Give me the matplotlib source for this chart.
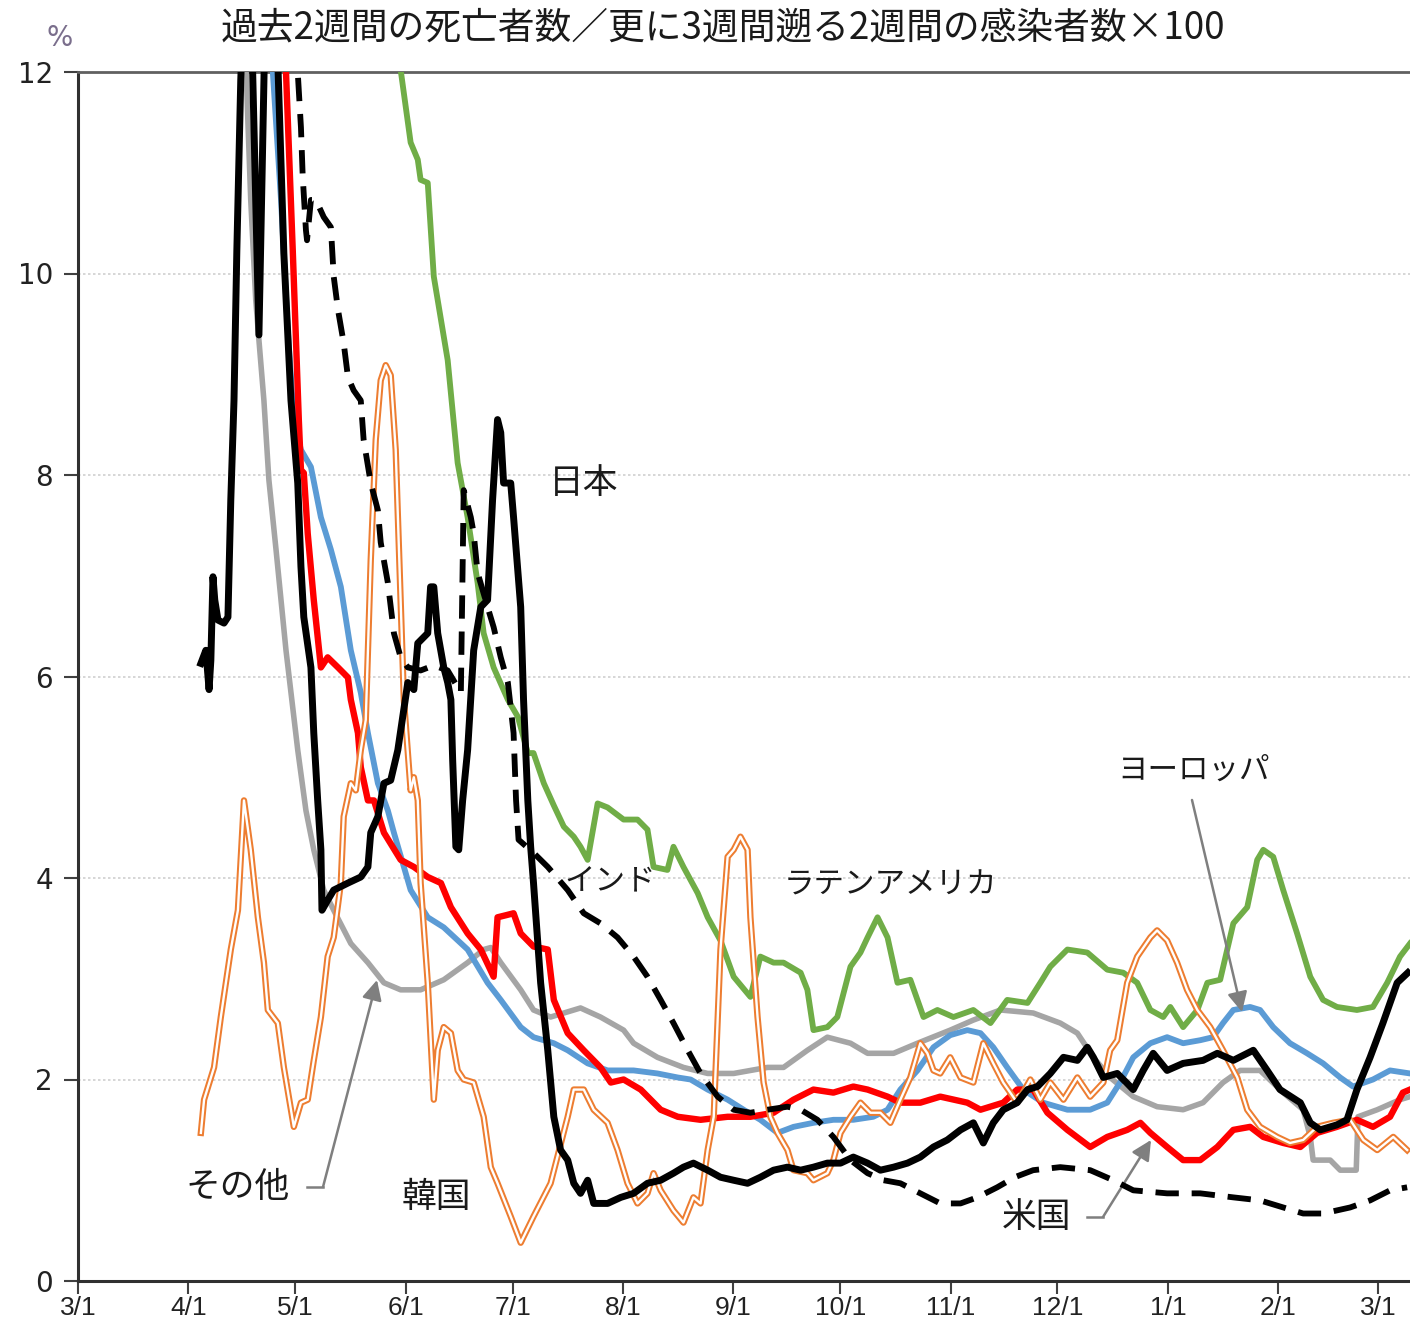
import matplotlib
matplotlib.use('Agg')
import matplotlib.pyplot as plt
import numpy as np
import pandas as pd
from matplotlib.lines import Line2D

plt.rcParams['font.family'] = ['Noto Sans CJK JP', 'DejaVu Sans']

START = pd.Timestamp('2020-03-01')
END_DAY = 374

title = '過去2週間の死亡者数／更に3週間遡る2週間の感染者数×100'
tick_labels = ['3/1', '4/1', '5/1', '6/1', '7/1', '8/1', '9/1', '10/1', '11/1', '12/1', '1/1', '2/1', '3/1']
y_ticks = [0, 2, 4, 6, 8, 10, 12]

# ---- data: days since 2020-03-01, value in % ----
japan_day = [34.5, 35.9, 36.8, 37.3, 37.9, 38.4, 39.3, 41.0, 42.1, 42.9, 43.8, 44.6, 45.7, 46.6, 48.5, 50.8,
             52.7, 55.5, 56.1, 57.8, 59.8, 61.7, 62.6, 63.4, 65.4, 66.2, 67.3, 68.2, 68.5, 70.1, 71.8, 75.8,
             79.4, 81.4, 82.2, 84.2, 85.9, 87.8, 89.8, 92.6, 94.3, 95.4, 98.2, 99.0, 99.9, 101.0, 102.7, 103.8,
             104.7, 105.2, 106.1, 106.9, 108.0, 109.4, 111.1, 113.1, 115.0, 116.4, 117.8, 118.7, 119.5, 121.5,
             122.3, 124.3, 125.1, 126.3, 127.1, 127.9, 129.9, 131.9, 133.6, 135.5, 137.5, 139.2, 141.1, 143.1,
             144.8, 148.7, 152.4, 156.0, 159.9, 163.6, 167.2, 170.0, 172.8, 176.8, 180.4, 184.1, 188.0, 191.6,
             195.3, 199.2, 202.9, 206.5, 210.4, 214.1, 217.7, 221.7, 225.3, 229.0, 232.9, 236.5, 240.2, 244.1,
             247.8, 251.4, 254.2, 257.0, 259.8, 263.7, 266.6, 269.4, 273.0, 276.7, 280.6, 283.4, 285.1, 287.9,
             291.8, 296.3, 299.1, 301.9, 305.8, 310.3, 315.9, 319.9, 324.4, 330.0, 333.9, 337.5, 343.2, 346.0,
             348.8, 353.5, 356.3, 359.1, 362.8, 366.4, 370.4, 373.4]
japan_val = [6.13, 6.26, 5.87, 6.16, 6.99, 6.76, 6.56, 6.53, 6.59, 7.75, 8.74, 10.23, 11.92, 12.8, 12.8, 9.39,
             12.8, 12.8, 12.1, 10.2, 8.74, 7.92, 7.09, 6.59, 6.09, 5.44, 4.77, 4.28, 3.68, 3.78, 3.88, 3.95,
             4.01, 4.11, 4.45, 4.61, 4.94, 4.97, 5.27, 5.94, 5.87, 6.33, 6.43, 6.89, 6.89, 6.43, 6.09, 5.94,
             5.77, 5.17, 4.31, 4.28, 4.77, 5.27, 6.26, 6.69, 6.76, 7.75, 8.55, 8.42, 7.92, 7.92,
             7.58, 6.69, 5.77, 4.77, 4.31, 3.95, 2.96, 2.29, 1.63, 1.30, 1.20, 0.97, 0.87, 1.00,
             0.77, 0.77, 0.83, 0.87, 0.97, 1.00, 1.07, 1.13, 1.17, 1.10, 1.03, 1.00, 0.97, 1.03,
             1.10, 1.13, 1.10, 1.13, 1.17, 1.17, 1.23, 1.17, 1.10, 1.13, 1.17, 1.23, 1.33, 1.40,
             1.50, 1.57, 1.37, 1.57, 1.70, 1.77, 1.90, 1.93, 2.06, 2.22, 2.19, 2.32, 2.22, 2.02,
             2.06, 1.90, 2.09, 2.26, 2.09, 2.16, 2.19, 2.26, 2.19, 2.29, 2.09, 1.90, 1.77, 1.57,
             1.50, 1.55, 1.60, 1.90, 2.22, 2.56, 2.96, 3.06]

india_day = [61.2, 62.6, 63.1, 64.0, 64.3, 65.4, 66.8, 69.0, 71.0, 71.8, 73.0, 74.6, 75.8, 77.4, 79.4, 80.2,
             82.2, 84.2, 85.0, 87.0, 88.7, 90.6, 92.6, 96.2, 99.9, 103.8, 107.5, 108.3, 110.3, 111.1, 112.2,
             115.0, 116.7, 118.7, 120.7, 122.3, 123.0, 123.7, 127.9, 131.9, 137.5, 142.0, 146.7, 151.5, 156.0,
             159.9, 163.6, 167.2, 171.2, 174.8, 179.6, 184.1, 188.8, 193.6, 199.2, 202.9, 207.6, 212.1, 216.9,
             221.7, 226.2, 230.9, 236.5, 242.1, 247.8, 252.5, 258.1, 263.0, 268.2, 275.8, 284.2, 290.7, 296.3,
             305.8, 315.1, 324.4, 331.9, 338.4, 344.0, 349.6, 357.2, 362.8, 368.4, 373.2]
india_val = [12.3, 11.45, 10.96, 10.43, 10.33, 10.73, 10.73, 10.56, 10.46, 9.97, 9.64, 9.31, 8.97, 8.84, 8.74, 8.35,
             7.92, 7.65, 7.33, 6.93, 6.43, 6.19, 6.09, 6.06, 6.11, 6.06, 5.84, 7.85, 7.58, 7.42, 7.03,
             6.69, 6.49, 6.19, 5.94, 5.44, 4.77, 4.38, 4.25, 4.11, 3.88, 3.65, 3.55, 3.41, 3.22,
             3.02, 2.79, 2.56, 2.29, 2.06, 1.83, 1.70, 1.67, 1.70, 1.73, 1.70, 1.60, 1.43, 1.20,
             1.07, 1.00, 0.97, 0.87, 0.77, 0.77, 0.83, 0.93, 1.03, 1.10, 1.13, 1.10, 1.00, 0.90,
             0.87, 0.87, 0.83, 0.80, 0.73, 0.67, 0.67, 0.73, 0.80, 0.90, 0.93]

latam_day = [90.1, 90.6, 93.4, 95.4, 96.2, 98.2, 99.9, 103.8, 106.6, 109.4, 112.2, 113.9, 116.7, 120.7, 123.5,
             126.3, 127.9, 130.8, 133.6, 136.4, 139.2, 141.1, 143.1, 145.9, 148.7, 153.2, 157.1, 159.9, 161.6,
             165.5, 167.2, 170.0, 174.0, 176.8, 180.4, 184.1, 188.8, 191.6, 195.3, 198.1, 202.9, 204.8, 206.5,
             210.4, 213.2, 216.9, 219.7, 221.7, 224.5, 227.3, 230.1, 233.7, 237.4, 241.3, 245.8, 251.4, 256.2,
             260.9, 266.6, 270.2, 273.0, 277.8, 283.4, 289.0, 293.5, 297.4, 301.1, 304.7, 306.7, 310.3, 314.3,
             317.1, 320.7, 324.4, 328.3, 331.1, 332.8, 335.6, 338.4, 342.3, 346.0, 349.6, 353.5, 359.1, 363.6,
             367.6, 371.2, 374.0]
latam_val = [12.3, 12.02, 11.30, 11.13, 10.93, 10.90, 9.97, 9.14, 8.12, 7.58, 6.93, 6.43, 6.09, 5.77, 5.60,
             5.24, 5.24, 4.94, 4.72, 4.51, 4.41, 4.31, 4.18, 4.74, 4.70, 4.58, 4.58, 4.48, 4.11,
             4.08, 4.31, 4.11, 3.85, 3.61, 3.38, 3.02, 2.82, 3.22, 3.16, 3.16, 3.06, 2.89, 2.49,
             2.52, 2.62, 3.12, 3.26, 3.41, 3.61, 3.41, 2.96, 2.99, 2.62, 2.69, 2.62, 2.69, 2.56,
             2.79, 2.76, 2.96, 3.12, 3.29, 3.26, 3.09, 3.06, 2.96, 2.69, 2.62, 2.72, 2.52, 2.69,
             2.96, 2.99, 3.55, 3.71, 4.18, 4.28, 4.21, 3.88, 3.45, 3.02, 2.79, 2.72, 2.69, 2.72,
             2.96, 3.22, 3.35]

europe_day = [54.2, 54.7, 57.0, 58.9, 60.6, 62.6, 65.4, 68.2, 71.0, 73.8, 76.6, 79.4, 81.4, 84.2, 87.0, 88.7,
              93.4, 98.2, 102.7, 109.4, 115.0, 118.7, 124.3, 127.9, 133.6, 137.5, 143.1, 148.7, 156.0, 162.7,
              168.4, 172.0, 176.8, 182.4, 186.9, 191.6, 196.4, 200.9, 206.5, 212.1, 217.7, 223.3, 227.3, 230.9,
              235.7, 240.2, 244.9, 249.7, 253.4, 257.0, 260.9, 265.4, 271.0, 277.8, 284.2, 289.0, 292.6, 296.3,
              301.1, 305.8, 310.3, 315.1, 318.7, 321.5, 324.4, 329.1, 331.9, 335.6, 340.3, 345.1, 349.6, 354.4,
              358.0, 363.6, 368.4, 374.0]
europe_val = [12.3, 12.0, 10.73, 9.44, 8.55, 8.25, 8.08, 7.58, 7.26, 6.89, 6.26, 5.84, 5.44, 4.94, 4.67, 4.45,
              3.88, 3.61, 3.51, 3.29, 2.96, 2.79, 2.52, 2.42, 2.36, 2.29, 2.16, 2.09, 2.09, 2.06,
              2.02, 2.00, 1.90, 1.80, 1.70, 1.60, 1.47, 1.53, 1.57, 1.60, 1.60, 1.63, 1.70, 1.90,
              2.09, 2.32, 2.44, 2.49, 2.46, 2.32, 2.12, 1.90, 1.77, 1.70, 1.70, 1.77, 1.97, 2.22,
              2.36, 2.42, 2.36, 2.39, 2.42, 2.56, 2.69, 2.72, 2.69, 2.52, 2.36, 2.26, 2.16, 2.02,
              1.93, 2.00, 2.09, 2.06]

us_day = [57.8, 58.4, 60.3, 62.0, 62.6, 63.4, 64.5, 66.2, 68.2, 70.1, 73.0, 75.8, 76.6, 78.6, 79.4, 81.4, 83.1,
          85.9, 90.6, 94.3, 98.2, 101.9, 104.7, 109.4, 113.1, 116.7, 117.8, 120.1, 122.3, 124.3, 127.9, 131.9,
          133.6, 137.5, 142.0, 146.7, 149.6, 153.2, 158.0, 163.6, 168.4, 174.8, 182.4, 188.8, 195.3, 200.9,
          206.5, 212.1, 217.7, 221.7, 227.3, 230.9, 236.5, 242.1, 249.7, 253.4, 259.8, 263.7, 268.2, 272.2,
          277.8, 284.2, 289.0, 294.6, 298.3, 301.1, 305.8, 310.3, 315.1, 319.9, 324.4, 329.1, 332.8, 338.4,
          343.2, 347.9, 353.5, 359.1, 363.6, 368.4, 372.0, 374.0]
us_val = [12.3, 12.0, 10.23, 8.55, 8.05, 8.02, 7.42, 6.76, 6.09, 6.19, 6.09, 5.99, 5.77, 5.44, 5.10, 4.77, 4.77,
          4.45, 4.18, 4.11, 4.01, 3.95, 3.71, 3.45, 3.29, 3.02, 3.61, 3.63, 3.65, 3.45, 3.32, 3.29,
          2.79, 2.46, 2.29, 2.12, 1.97, 2.00, 1.90, 1.70, 1.63, 1.60, 1.63, 1.63, 1.67, 1.80,
          1.90, 1.87, 1.93, 1.90, 1.83, 1.77, 1.77, 1.83, 1.77, 1.70, 1.77, 1.90, 1.90, 1.67,
          1.50, 1.33, 1.43, 1.50, 1.57, 1.47, 1.33, 1.20, 1.20, 1.33, 1.50, 1.53, 1.43, 1.37,
          1.33, 1.47, 1.53, 1.60, 1.53, 1.63, 1.87, 1.90]

other_day = [47.1, 48.5, 49.9, 50.8, 52.2, 53.6, 55.6, 58.4, 61.7, 64.0, 66.2, 69.0, 71.8, 76.6, 81.4, 85.9,
             90.6, 96.2, 102.7, 109.4, 113.9, 115.9, 118.7, 124.3, 127.9, 132.7, 141.1, 146.7, 153.2, 156.0,
             162.7, 170.0, 176.8, 184.1, 193.6, 198.1, 204.8, 210.4, 216.9, 221.7, 229.0, 235.7, 244.9, 251.4,
             259.0, 268.2, 275.8, 280.6, 285.1, 289.8, 296.3, 303.0, 310.3, 315.9, 321.5, 326.3, 331.9, 338.4,
             344.0, 346.0, 346.8, 351.6, 354.4, 358.9, 359.4, 364.8, 371.2, 374.0]
other_val = [12.1, 10.73, 9.74, 9.34, 8.74, 7.95, 7.26, 6.26, 5.27, 4.67, 4.28, 3.88, 3.68, 3.35, 3.16, 2.96,
             2.89, 2.89, 2.99, 3.16, 3.29, 3.31, 3.16, 2.89, 2.69, 2.62, 2.71, 2.62, 2.49, 2.36,
             2.22, 2.12, 2.06, 2.06, 2.12, 2.12, 2.29, 2.42, 2.36, 2.26, 2.26, 2.36, 2.49, 2.59,
             2.69, 2.66, 2.56, 2.46, 2.22, 2.02, 1.83, 1.73, 1.70, 1.77, 1.97, 2.09, 2.09, 1.87,
             1.70, 1.43, 1.20, 1.20, 1.10, 1.10, 1.63, 1.70, 1.80, 1.83]

korea_day = [34.5, 35.4, 38.2, 40.1, 42.9, 44.9, 46.6, 48.5, 50.5, 52.2, 53.3, 56.1, 57.8, 59.8, 60.6, 62.6,
             64.5, 66.2, 68.2, 70.1, 71.8, 73.8, 74.6, 76.6, 78.0, 79.4, 80.8, 82.2, 83.6, 85.0, 86.4, 87.8,
             89.2, 90.6, 91.5, 93.4, 94.3, 95.4, 96.2, 98.2, 99.9, 101.0, 102.7, 104.7, 106.6, 108.3, 111.1,
             113.9, 115.9, 117.8, 121.5, 124.3, 127.9, 132.7, 137.5, 139.2, 142.0, 144.8, 148.7, 151.5, 154.3,
             157.1, 159.9, 161.6, 163.6, 167.2, 170.0, 172.8, 174.8, 176.8, 178.5, 180.4, 182.4, 184.1, 186.0,
             188.0, 188.8, 190.8, 192.5, 194.4, 196.4, 199.2, 200.9, 204.8, 206.5, 210.4, 212.1, 214.1, 216.9,
             219.7, 222.5, 225.3, 228.1, 230.9, 233.7, 236.5, 238.5, 240.2, 242.1, 244.9, 247.8, 251.4, 254.2,
             257.0, 259.8, 263.7, 267.4, 270.2, 273.0, 276.7, 280.6, 284.2, 287.9, 289.8, 291.8, 294.6, 297.4,
             301.1, 303.0, 305.8, 308.6, 311.4, 314.3, 317.9, 321.5, 325.5, 328.3, 331.9, 336.7, 340.3, 344.0,
             347.9, 352.4, 357.2, 360.9, 364.8, 369.3, 373.2]
korea_val = [1.47, 1.80, 2.12, 2.62, 3.29, 3.68, 4.77, 4.28, 3.61, 3.16, 2.69, 2.56, 2.12, 1.70, 1.53, 1.77,
             1.80, 2.19, 2.62, 3.22, 3.41, 3.95, 4.61, 4.94, 4.87, 5.27, 5.57, 7.16, 8.35, 8.94, 9.09, 8.99,
             8.25, 6.76, 5.77, 4.87, 5.00, 4.77, 3.95, 2.96, 1.80, 2.29, 2.52, 2.46, 2.09, 2.00, 1.97,
             1.63, 1.13, 0.97, 0.64, 0.38, 0.64, 0.97, 1.63, 1.90, 1.90, 1.70, 1.57, 1.30, 0.97,
             0.77, 0.87, 1.07, 0.90, 0.70, 0.58, 0.83, 0.77, 1.30, 1.63, 3.29, 4.21, 4.28, 4.41,
             4.28, 3.61, 2.62, 1.97, 1.63, 1.47, 1.30, 1.10, 1.07, 1.00, 1.07, 1.20, 1.47, 1.63,
             1.77, 1.67, 1.67, 1.57, 1.80, 2.02, 2.36, 2.26, 2.09, 2.06, 2.22, 2.02, 1.97, 2.36,
             2.16, 1.97, 1.77, 2.00, 1.80, 1.97, 1.80, 2.02, 1.83, 1.97, 2.29, 2.39, 2.96, 3.22,
             3.41, 3.48, 3.38, 3.16, 2.89, 2.69, 2.52, 2.29, 2.02, 1.70, 1.53, 1.43, 1.37, 1.40,
             1.53, 1.57, 1.60, 1.40, 1.30, 1.43, 1.30]


def to_dates(days):
    return START + pd.to_timedelta(np.asarray(days, dtype=float), unit='D')


W, H = 1410, 1326
fig = plt.figure(figsize=(W / 100, H / 100), dpi=100)
ax = fig.add_axes([78 / W, 1 - 1281 / H, 1332 / W, 1209 / H])


def fx(x):
    return x / W


def fy(y):
    return 1 - y / H


GREEN = '#70AD47'
BLUE = '#5B9BD5'
RED = '#FF0000'
GRAY = '#A5A5A5'
ORANGE = '#ED7D31'

ax.plot(to_dates(other_day), other_val, color=GRAY, lw=4.0, solid_joinstyle='round', zorder=3)
ax.plot(to_dates(latam_day), latam_val, color=GREEN, lw=4.2, solid_joinstyle='round', zorder=3)
ax.plot(to_dates(europe_day), europe_val, color=BLUE, lw=4.2, solid_joinstyle='round', zorder=3)
ax.plot(to_dates(us_day), us_val, color=RED, lw=4.6, solid_joinstyle='round', zorder=3)
kd = to_dates(korea_day)
ax.plot(kd, korea_val, color=ORANGE, lw=4.6, solid_joinstyle='round', zorder=4)
ax.plot(kd, korea_val, color='white', lw=1.7, solid_joinstyle='round', zorder=4)
ax.plot(to_dates(india_day), india_val, color='black', lw=4.2, linestyle=(0, (4, 2.2)), zorder=5)
ax.plot(to_dates(japan_day), japan_val, color='black', lw=5.0, solid_joinstyle='round', zorder=6)

ax.set_xlim(START, START + pd.Timedelta(days=END_DAY))
ax.set_ylim(0, 12)

month_ticks = pd.date_range(START, START + pd.Timedelta(days=365), freq='MS')
ax.set_xticks(month_ticks)
ax.set_xticklabels(tick_labels, family=['Liberation Sans Narrow', 'Liberation Sans'], fontsize=19, color='#222222')
ax.set_yticks(y_ticks)
ax.set_yticklabels([str(v) for v in y_ticks], family='DejaVu Sans', fontsize=20, color='#222222')
ax.tick_params(axis='x', direction='out', length=9, width=1.5, color='#404040', pad=2)
ax.tick_params(axis='y', direction='out', length=10, width=1.5, color='#404040', pad=8)

for v in [2, 4, 6, 8, 10]:
    ax.axhline(v, color='#d0d0d0', lw=1.2, linestyle=(0, (1.5, 1.5)), zorder=1)

for s in ['left', 'bottom']:
    ax.spines[s].set_color('#303030')
    ax.spines[s].set_linewidth(2.2)
ax.spines['top'].set_color('#606060')
ax.spines['top'].set_linewidth(2.0)
ax.spines['right'].set_visible(False)

fig.text(fx(723), fy(28), title, ha='center', va='center', fontsize=26.5, color='#1a1a1a')
fig.text(fx(60), fy(38), '%', ha='center', va='center', fontsize=20, color='#7a6e8c', family='DejaVu Sans')

labels = [
    ('日本', 584, 483, 25),
    ('インド', 610, 882, 22),
    ('ラテンアメリカ', 890, 885, 22),
    ('ヨーロッパ', 1194, 770, 22),
    ('米国', 1037, 1218, 25),
    ('その他', 238, 1188, 25),
    ('韓国', 436, 1198, 25),
]
for t, x, y, fs in labels:
    fig.text(fx(x), fy(y), t, ha='center', va='center', fontsize=fs, color='#1a1a1a', zorder=10)

ACOL = '#7f7f7f'
aprops = dict(arrowstyle='-|>', color=ACOL, lw=1.8, mutation_scale=30, shrinkA=0, shrinkB=0)
fig.add_artist(Line2D([fx(307), fx(323)], [fy(1187), fy(1187)], color=ACOL, lw=1.8))
ax.annotate('', xy=(fx(377), fy(980)), xytext=(fx(323), fy(1187)), xycoords='figure fraction',
            textcoords='figure fraction', arrowprops=aprops)
fig.add_artist(Line2D([fx(1087), fx(1103)], [fy(1217), fy(1217)], color=ACOL, lw=1.8))
ax.annotate('', xy=(fx(1151), fy(1140)), xytext=(fx(1103), fy(1217)), xycoords='figure fraction',
            textcoords='figure fraction', arrowprops=aprops)
ax.annotate('', xy=(fx(1242), fy(1012)), xytext=(fx(1192), fy(800)), xycoords='figure fraction',
            textcoords='figure fraction', arrowprops=aprops)

fig.savefig('out.png', dpi=100)
